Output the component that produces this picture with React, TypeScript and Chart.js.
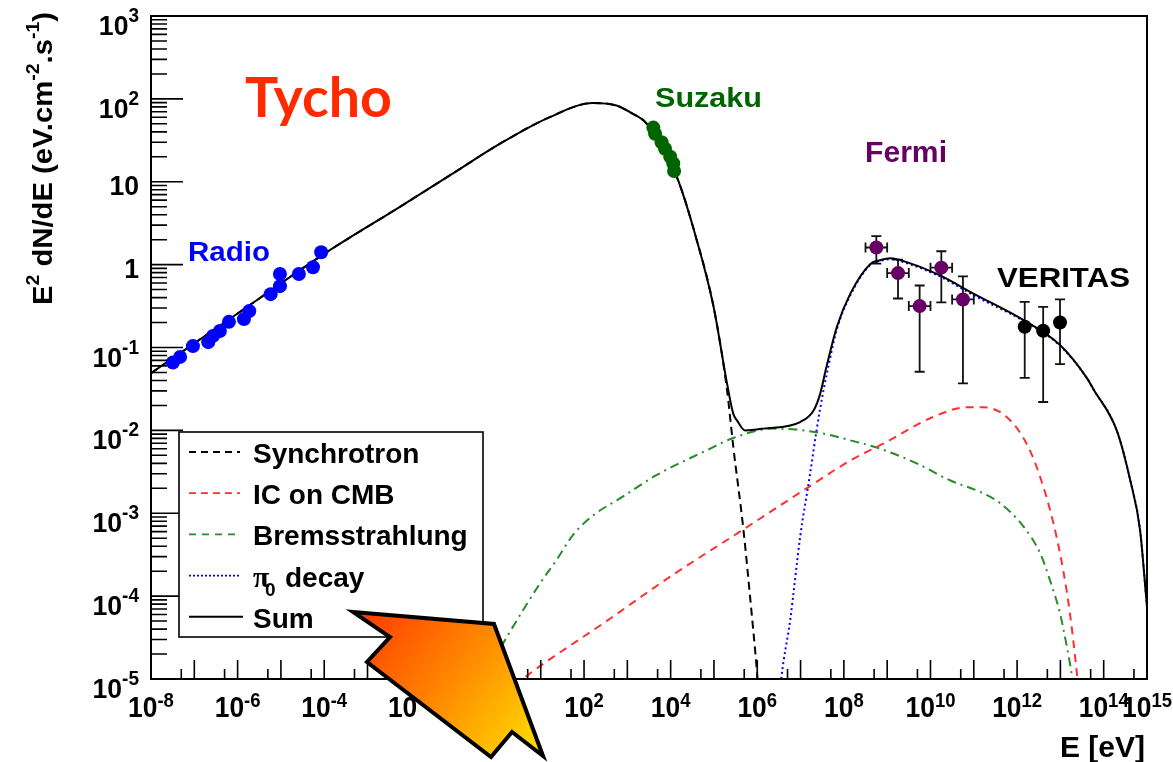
import React, { useEffect, useRef } from 'react';
import { Chart, registerables } from 'chart.js';

Chart.register(...registerables);

// ---------------- data ----------------
const radioE = [3.2e-8, 4.7e-8, 9.3e-8, 2.1e-7, 2.7e-7, 3.9e-7, 6.3e-7, 1.4e-6, 1.86e-6, 5.8e-6, 9.5e-6, 9.5e-6, 2.6e-5, 5.5e-5, 8.5e-5];
const radioF = [0.066, 0.077, 0.104, 0.116, 0.138, 0.158, 0.204, 0.22, 0.275, 0.44, 0.55, 0.77, 0.77, 0.93, 1.41];

const suzakuE = [3980, 4370, 6170, 7410, 9770, 11500, 12000];
const suzakuF = [45, 38, 30, 25, 20, 16.6, 13.5];

const fermiE = [5.62e8, 1.78e9, 5.62e9, 1.78e10, 5.62e10];
const fermiELo = [3.16e8, 1e9, 3.16e9, 1e10, 3.16e10];
const fermiEHi = [1e9, 3.16e9, 1e10, 3.16e10, 1e11];
const fermiF = [1.61, 0.79, 0.316, 0.92, 0.38];
const fermiFLo = [1.03, 0.39, 0.051, 0.35, 0.037];
const fermiFHi = [2.21, 1.15, 0.56, 1.45, 0.72];

const veritasE = [1.5e12, 4.0e12, 9.8e12];
const veritasF = [0.178, 0.159, 0.2];
const veritasFLo = [0.043, 0.022, 0.063];
const veritasFHi = [0.355, 0.31, 0.38];

const sumE = [1e-8, 1e-6, 1e-4, 5.6e-3, 8.1e-2, 1.15, 16.2, 162, 562, 1150, 2820, 1.38e4, 3.98e4, 9.8e4, 2.0e5, 2.8e5, 3.4e5, 5.2e5, 1.38e6, 9.8e6, 2.0e7, 2.8e7, 3.98e7, 6.9e7, 1.41e8, 4.1e8, 6.9e8, 1.17e9, 3.16e9, 1.66e10, 9.8e10, 1.41e12, 9.8e12, 4.1e13, 5.75e13, 2.0e14, 4.1e14, 6.9e14, 1e15];
const sumF = [0.049, 0.257, 1.35, 4.98, 12.0, 28.8, 60.3, 89, 83, 69, 50, 11.5, 2.0, 0.31, 0.037, 0.0158, 0.0132, 0.01, 0.0105, 0.0126, 0.0174, 0.027, 0.059, 0.178, 0.447, 1.02, 1.13, 1.19, 1.05, 0.74, 0.447, 0.214, 0.107, 0.0427, 0.0316, 0.01, 2.5e-3, 6.3e-4, 7.4e-5];

const synchE = [1e-8, 1e-6, 1e-4, 5.6e-3, 8.1e-2, 1.15, 16.2, 162, 562, 1150, 2820, 1.38e4, 3.98e4, 9.8e4, 2.0e5, 2.8e5, 4.8e5, 6.8e5, 9.8e5, 1.12e6];
const synchF = [0.049, 0.257, 1.35, 4.98, 12.0, 28.8, 60.3, 89, 83, 69, 50, 11.5, 2.0, 0.31, 0.031, 6.3e-3, 6.3e-4, 1e-4, 1.26e-5, 5e-6];

const icE = [2.5, 4.0, 331, 1.15e4, 4e5, 1.38e7, 1.38e8, 8.1e8, 1.15e10, 6.9e10, 1.66e11, 5.75e11, 1.66e12, 3.4e12, 6.9e12, 1.17e13, 1.66e13, 2.4e13, 2.8e13];
const icF = [8.3e-6, 1.02e-5, 5.0e-5, 1.82e-4, 6.0e-4, 2.0e-3, 4.3e-3, 6.9e-3, 1.45e-2, 1.9e-2, 1.9e-2, 1.45e-2, 6.9e-3, 2.75e-3, 7.6e-4, 2.0e-4, 6.2e-5, 1.17e-5, 5e-6];

const bremsE = [0.4, 1.64, 9.5, 23.4, 56, 166, 676, 4.8e3, 6.8e4, 2.8e5, 2.3e6, 2.3e7, 1.38e8, 6.9e8, 4.8e9, 2.8e10, 1.66e11, 4.1e11, 1.41e12, 3.4e12, 5.75e12, 9.8e12, 1.41e13, 1.86e13, 2.24e13];
const bremsF = [8.9e-6, 3.2e-5, 1.41e-4, 2.75e-4, 5.5e-4, 9.5e-4, 1.51e-3, 2.9e-3, 5.75e-3, 8.1e-3, 1.05e-2, 9.5e-3, 7.6e-3, 6.0e-3, 4.0e-3, 2.5e-3, 1.74e-3, 1.32e-3, 6.9e-4, 3.3e-4, 1.55e-4, 6.2e-5, 2.45e-5, 1.07e-5, 5e-6];

const pionE = [3.2e6, 3.6e6, 5.75e6, 9.8e6, 1.66e7, 2.34e7, 3.4e7, 4.0e7, 6.9e7, 1.41e8, 4.1e8, 6.9e8, 1.17e9, 3.16e9, 1.66e10, 9.8e10, 1.41e12, 9.8e12, 4.1e13, 5.75e13, 2.0e14, 4.1e14, 6.9e14, 1e15];
const pionF = [5e-6, 1.02e-5, 5.1e-5, 5.2e-4, 3.0e-3, 1.0e-2, 3.1e-2, 4.7e-2, 0.166, 0.427, 1.0, 1.11, 1.16, 1.02, 0.72, 0.427, 0.209, 0.105, 0.0427, 0.0316, 0.01, 2.5e-3, 6.3e-4, 7.4e-5];

// axis ticks
const xDecadeExps = [-8, -7, -6, -5, -4, -3, -2, -1, 0, 1, 2, 3, 4, 5, 6, 7, 8, 9, 10, 11, 12, 13, 14, 15];
const xLabelExps = [-8, -6, -4, -2, 0, 2, 4, 6, 8, 10, 12, 14, 15];
const yDecadeExps = [-5, -4, -3, -2, -1, 0, 1, 2, 3];
const yLabelExps = [-5, -4, -3, -2, -1, 0, 1, 2, 3];
const yMinorMult = [2, 3, 4, 5, 6, 7, 8, 9];

const legendLabels = ['Synchrotron', 'IC on CMB', 'Bremsstrahlung', 'π0 decay', 'Sum'];

const C_SYN = '#000000';
const C_IC = '#ff3030';
const C_BREMS = '#2a8a2a';
const C_PION = '#0000ff';
const C_SUM = '#000000';

const FONT = '"Liberation Sans", Arial, Helvetica, sans-serif';

function pts(xs: number[], ys: number[]) {
  return xs.map((x, i) => ({ x, y: ys[i] }));
}

function measure(ctx: CanvasRenderingContext2D, s: string, font: string, sx: number) {
  ctx.save();
  ctx.font = font;
  const w = ctx.measureText(s).width * sx;
  ctx.restore();
  return w;
}

function drawText(ctx: CanvasRenderingContext2D, s: string, x: number, y: number, font: string, color: string, sx = 1) {
  ctx.save();
  ctx.font = font;
  ctx.fillStyle = color;
  ctx.textAlign = 'left';
  ctx.textBaseline = 'alphabetic';
  ctx.translate(x, y);
  ctx.scale(sx, 1);
  ctx.fillText(s, 0, 0);
  ctx.restore();
}

function fitText(ctx: CanvasRenderingContext2D, s: string, left: number, baseline: number, width: number, font: string, color: string) {
  const w = measure(ctx, s, font, 1);
  drawText(ctx, s, left, baseline, font, color, width / w);
}

const rootPlugin = {
  id: 'rootStyle',
  beforeDatasetsDraw(chart: any) {
    const ctx: CanvasRenderingContext2D = chart.ctx;
    const xs = chart.scales.x;
    const ys = chart.scales.y;
    ctx.save();
    ctx.strokeStyle = '#111';
    ctx.lineWidth = 1.8;
    const cap = 5;
    const vbar = (e: number, lo: number, hi: number) => {
      const px = xs.getPixelForValue(e);
      const y1 = ys.getPixelForValue(lo);
      const y2 = ys.getPixelForValue(hi);
      ctx.beginPath();
      ctx.moveTo(px, y1); ctx.lineTo(px, y2);
      ctx.moveTo(px - cap, y1); ctx.lineTo(px + cap, y1);
      ctx.moveTo(px - cap, y2); ctx.lineTo(px + cap, y2);
      ctx.stroke();
    };
    const hbar = (lo: number, hi: number, f: number) => {
      const py = ys.getPixelForValue(f);
      const x1 = xs.getPixelForValue(lo);
      const x2 = xs.getPixelForValue(hi);
      ctx.beginPath();
      ctx.moveTo(x1, py); ctx.lineTo(x2, py);
      ctx.moveTo(x1, py - cap); ctx.lineTo(x1, py + cap);
      ctx.moveTo(x2, py - cap); ctx.lineTo(x2, py + cap);
      ctx.stroke();
    };
    fermiE.forEach((e, i) => {
      vbar(e, fermiFLo[i], fermiFHi[i]);
      hbar(fermiELo[i], fermiEHi[i], fermiF[i]);
    });
    veritasE.forEach((e, i) => vbar(e, veritasFLo[i], veritasFHi[i]));
    ctx.restore();
  },
  afterDatasetsDraw(chart: any) {
    const ctx: CanvasRenderingContext2D = chart.ctx;
    const xs = chart.scales.x;
    const ys = chart.scales.y;
    const { left, right, top, bottom } = chart.chartArea;

    ctx.save();
    // frame
    ctx.strokeStyle = '#000';
    ctx.lineWidth = 2;
    ctx.strokeRect(left, top, right - left, bottom - top);

    // ticks
    ctx.lineWidth = 1.6;
    ctx.beginPath();
    xDecadeExps.forEach((e) => {
      const px = xs.getPixelForValue(Math.pow(10, e));
      ctx.moveTo(px, bottom); ctx.lineTo(px, bottom - 19);
      if (e < 15) {
        const pm = xs.getPixelForValue(5 * Math.pow(10, e));
        ctx.moveTo(pm, bottom); ctx.lineTo(pm, bottom - 10);
      }
    });
    yDecadeExps.forEach((e) => {
      const py = ys.getPixelForValue(Math.pow(10, e));
      ctx.moveTo(left, py); ctx.lineTo(left + 32, py);
      if (e < 3) {
        yMinorMult.forEach((m) => {
          const pm = ys.getPixelForValue(m * Math.pow(10, e));
          ctx.moveTo(left, pm); ctx.lineTo(left + 16, pm);
        });
      }
    });
    ctx.stroke();

    // x tick labels
    const xb = `bold 30px ${FONT}`;
    const xsup = `bold 21px ${FONT}`;
    const XSX = 0.88;
    xLabelExps.forEach((e) => {
      const px = xs.getPixelForValue(Math.pow(10, e));
      const base = e === 0 ? '1' : '10';
      const sup = e === 0 ? '' : String(e);
      const wb = measure(ctx, base, xb, XSX);
      const we = sup ? measure(ctx, sup, xsup, XSX) : 0;
      const start = px - (wb + we) / 2;
      drawText(ctx, base, start, bottom + 38, xb, '#000', XSX);
      if (sup) drawText(ctx, sup, start + wb, bottom + 28, xsup, '#000', XSX);
    });

    // y tick labels
    const yb = `bold 28px ${FONT}`;
    const ysup = `bold 20px ${FONT}`;
    const YSX = 0.95;
    const yRight = left - 12;
    yLabelExps.forEach((e) => {
      const py = ys.getPixelForValue(Math.pow(10, e));
      if (e === 0 || e === 1) {
        const base = e === 0 ? '1' : '10';
        const wb = measure(ctx, base, yb, YSX);
        drawText(ctx, base, yRight - wb, py + 13, yb, '#000', YSX);
      } else {
        const sup = String(e);
        const wb = measure(ctx, '10', yb, YSX);
        const we = measure(ctx, sup, ysup, YSX);
        const start = yRight - wb - we;
        drawText(ctx, '10', start, py + 19, yb, '#000', YSX);
        drawText(ctx, sup, start + wb, py + 6, ysup, '#000', YSX);
      }
    });

    // x title
    const xt = `bold 30px ${FONT}`;
    const wxt = measure(ctx, 'E [eV]', xt, 1);
    drawText(ctx, 'E [eV]', right - 2 - wxt, 757, xt, '#000', 1);

    // y title (rotated, with superscripts)
    const tb = `bold 27px ${FONT}`;
    const ts = `bold 18px ${FONT}`;
    const parts: [string, boolean][] = [['E', false], ['2', true], [' dN/dE (eV.cm', false], ['-2', true], ['.s', false], ['-1', true], [')', false]];
    let total = 0;
    parts.forEach(([s, sup]) => { total += measure(ctx, s, sup ? ts : tb, 1); });
    const tsx = 293 / total;
    ctx.save();
    ctx.translate(52, 305);
    ctx.rotate(-Math.PI / 2);
    let cx = 0;
    parts.forEach(([s, sup]) => {
      const f = sup ? ts : tb;
      drawText(ctx, s, cx, sup ? -13 : 0, f, '#000', tsx);
      cx += measure(ctx, s, f, tsx);
    });
    ctx.restore();

    // annotations
    fitText(ctx, 'Tycho', 245, 117, 147, `bold 56px "Comic Sans MS", Lato, "Open Sans", sans-serif`, '#ff2a00');
    fitText(ctx, 'Radio', 188, 261, 82, `bold 27px ${FONT}`, '#0000ff');
    fitText(ctx, 'Suzaku', 655, 107, 107, `bold 28px ${FONT}`, '#006400');
    fitText(ctx, 'Fermi', 865, 162, 82, `bold 30px ${FONT}`, '#660066');
    fitText(ctx, 'VERITAS', 997, 287, 133, `bold 28px ${FONT}`, '#000000');

    // legend box
    ctx.fillStyle = '#fff';
    ctx.fillRect(179, 432, 304, 205);
    ctx.strokeStyle = '#000';
    ctx.lineWidth = 1.6;
    ctx.strokeRect(179, 432, 304, 205);
    const lcolors = [C_SYN, C_IC, C_BREMS, C_PION, C_SUM];
    const ldash = [[7, 5], [7, 5], [7, 6], [2, 2], []];
    const lf = `bold 28px ${FONT}`;
    legendLabels.forEach((lab, i) => {
      const ly = 452 + i * 41.2;
      ctx.save();
      ctx.strokeStyle = lcolors[i];
      ctx.lineWidth = i === 4 ? 2 : 1.8;
      ctx.setLineDash(ldash[i]);
      ctx.beginPath();
      ctx.moveTo(189, ly); ctx.lineTo(i === 4 ? 243 : 240, ly);
      ctx.stroke();
      ctx.restore();
      if (lab.startsWith('π')) {
        drawText(ctx, 'π', 253, ly + 11, `bold 30px "Liberation Serif", serif`, '#000', 1);
        drawText(ctx, '0', 265, ly + 20, `bold 19px ${FONT}`, '#000', 1);
        drawText(ctx, 'decay', 285, ly + 11, lf, '#000', 1);
      } else {
        drawText(ctx, lab, 253, ly + 11, lf, '#000', 1);
      }
    });

    // arrow
    ctx.beginPath();
    ctx.moveTo(353, 612);
    ctx.lineTo(494, 624);
    ctx.lineTo(543, 756);
    ctx.lineTo(512, 732);
    ctx.lineTo(491, 757);
    ctx.lineTo(367, 662);
    ctx.lineTo(390, 637);
    ctx.closePath();
    const g = ctx.createLinearGradient(360, 615, 540, 755);
    g.addColorStop(0, '#ff3c00');
    g.addColorStop(0.5, '#ff8a00');
    g.addColorStop(1, '#ffe000');
    ctx.fillStyle = g;
    ctx.fill();
    ctx.lineWidth = 4;
    ctx.lineJoin = 'miter';
    ctx.strokeStyle = '#000';
    ctx.stroke();
    ctx.restore();
  },
};

export default function App() {
  const ref = useRef<HTMLCanvasElement>(null);
  useEffect(() => {
    const curve = (label: string, xs: number[], ys: number[], color: string, dash: number[], order: number) => ({
      label,
      data: pts(xs, ys),
      showLine: true,
      borderColor: color,
      backgroundColor: color,
      borderWidth: 2,
      borderDash: dash,
      pointRadius: 0,
      cubicInterpolationMode: 'monotone' as const,
      order,
    });
    const markers = (label: string, xs: number[], ys: number[], color: string) => ({
      label,
      data: pts(xs, ys),
      showLine: false,
      pointRadius: 7,
      pointBorderWidth: 0,
      backgroundColor: color,
      borderColor: color,
      order: 0,
    });
    const chart = new Chart(ref.current as HTMLCanvasElement, {
      type: 'scatter',
      data: {
        datasets: [
          markers('Radio', radioE, radioF, '#0000ff'),
          markers('Suzaku', suzakuE, suzakuF, '#006400'),
          markers('Fermi', fermiE, fermiF, '#660066'),
          markers('VERITAS', veritasE, veritasF, '#000000'),
          curve('Sum', sumE, sumF, C_SUM, [], 1),
          curve('π0 decay', pionE, pionF, C_PION, [2, 3], 2),
          curve('Synchrotron', synchE, synchF, C_SYN, [8, 5], 3),
          curve('IC on CMB', icE, icF, C_IC, [8, 6], 3),
          curve('Bremsstrahlung', bremsE, bremsF, C_BREMS, [9, 5, 2, 5], 3),
        ] as any,
      },
      options: {
        animation: false,
        responsive: false,
        maintainAspectRatio: false,
        events: [],
        layout: { padding: { left: 151, right: 26, top: 16, bottom: 83 } },
        scales: {
          x: { type: 'logarithmic', min: 1e-8, max: 1e15, display: false },
          y: { type: 'logarithmic', min: 1e-5, max: 1e3, display: false },
        },
        plugins: { legend: { display: false }, tooltip: { enabled: false } },
      } as any,
      plugins: [rootPlugin as any],
    });
    return () => chart.destroy();
  }, []);
  return (
    <div style={{ position: 'fixed', left: 0, top: 0, width: 1173, height: 762, background: '#fff' }}>
      <canvas ref={ref} width={1173} height={762} style={{ display: 'block' }} />
    </div>
  );
}
